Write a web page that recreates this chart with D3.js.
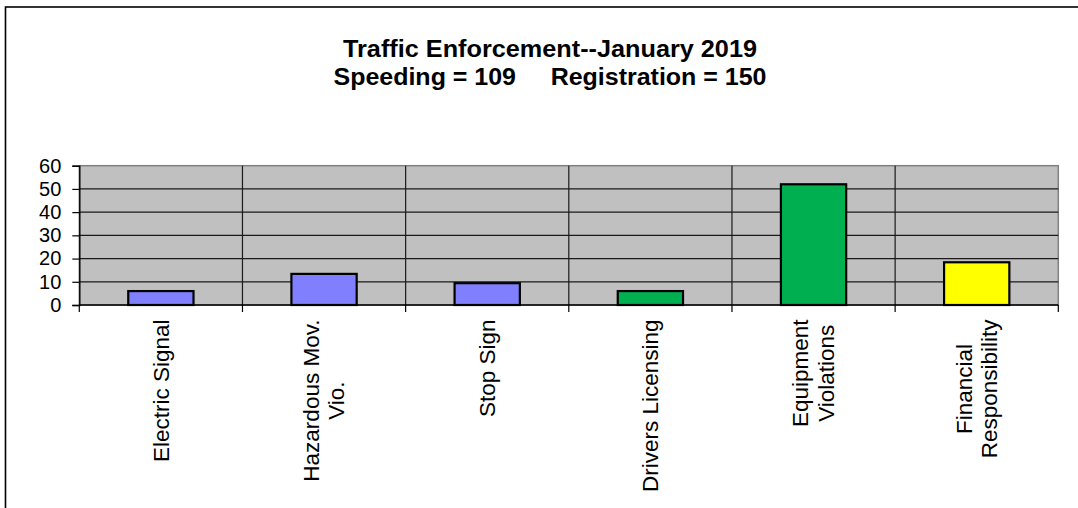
<!DOCTYPE html>
<html>
<head>
<meta charset="utf-8">
<script src="https://cdn.jsdelivr.net/npm/d3@7"></script>
<style>
  html, body { margin: 0; padding: 0; background: #fff; }
  svg { display: block; font-family: "Liberation Sans", Arial, sans-serif; }
</style>
</head>
<body>
<svg id="chart" width="1078" height="508"></svg>
<script>
// ---- data ----
const titleLines = ["Traffic Enforcement--January 2019", "Speeding = 109     Registration = 150"];
const categories = ["Electric Signal", "Hazardous Mov. Vio.", "Stop Sign", "Drivers Licensing", "Equipment Violations", "Financial Responsibility"];
const categoryLines = [["Electric Signal"], ["Hazardous Mov.", "Vio."], ["Stop Sign"], ["Drivers Licensing"], ["Equipment", "Violations"], ["Financial", "Responsibility"]];
const values = [6, 13.4, 9.4, 6, 52, 18.4];
const barColors = ["#8080FF", "#8080FF", "#8080FF", "#00B050", "#00B050", "#FFFF00"];
const yTicks = [0, 10, 20, 30, 40, 50, 60];

// ---- layout ----
const svg = d3.select("#chart");
const plot = { left: 79.3, right: 1058.3, top: 165.7, bottom: 305 };

// outer frame
svg.append("rect").attr("x", 5.5).attr("y", 7).attr("width", 1200).attr("height", 700)
  .attr("fill", "none").attr("stroke", "#000").attr("stroke-width", 1.6);

// title
const title = svg.append("g");
title.append("text").attr("x", 550).attr("y", 56.5).attr("text-anchor", "middle")
  .attr("font-size", 23).attr("font-weight", "bold")
  .attr("textLength", 414).attr("lengthAdjust", "spacingAndGlyphs")
  .text(titleLines[0]);
title.append("text").attr("x", 550).attr("y", 85).attr("text-anchor", "middle")
  .attr("font-size", 23).attr("font-weight", "bold")
  .attr("textLength", 433).attr("lengthAdjust", "spacingAndGlyphs")
  .style("white-space", "pre").attr("xml:space", "preserve")
  .text(titleLines[1]);

const x = d3.scaleBand().domain(categories).range([plot.left, plot.right]).padding(0);
const y = d3.scaleLinear().domain([0, 60]).range([plot.bottom, plot.top]);

// plot background
svg.append("rect").attr("x", plot.left).attr("y", plot.top)
  .attr("width", plot.right - plot.left).attr("height", plot.bottom - plot.top)
  .attr("fill", "#C0C0C0").attr("stroke", "#808080").attr("stroke-width", 1.5);

// horizontal gridlines
svg.append("g").selectAll("line").data(yTicks.filter(d => d > 0 && d < 60)).join("line")
  .attr("x1", plot.left).attr("x2", plot.right)
  .attr("y1", d => y(d)).attr("y2", d => y(d))
  .attr("stroke", "#1a1a1a").attr("stroke-width", 1.2);

// vertical gridlines at category boundaries
const bounds = categories.slice(1).map(c => x(c));
svg.append("g").selectAll("line").data(bounds).join("line")
  .attr("x1", d => d).attr("x2", d => d)
  .attr("y1", plot.top).attr("y2", plot.bottom)
  .attr("stroke", "#1a1a1a").attr("stroke-width", 1.2);

// bars
svg.append("g").selectAll("rect").data(values).join("rect")
  .attr("x", (d, i) => x(categories[i]) + x.bandwidth() * 0.3)
  .attr("width", x.bandwidth() * 0.4)
  .attr("y", d => y(d))
  .attr("height", d => y(0) - y(d))
  .attr("fill", (d, i) => barColors[i])
  .attr("stroke", "#000").attr("stroke-width", 2.2);

// y axis
const yAxis = svg.append("g").attr("transform", `translate(${plot.left},0)`)
  .call(d3.axisLeft(y).tickValues(yTicks).tickSize(7).tickPadding(11));
yAxis.select(".domain").attr("stroke", "#000").attr("stroke-width", 1.4);
yAxis.selectAll(".tick line").attr("stroke", "#000").attr("stroke-width", 1.2);
yAxis.selectAll(".tick text").attr("font-size", 20).attr("fill", "#000")
  .attr("font-family", "Liberation Sans, Arial, sans-serif");

// x axis line with ticks at category boundaries
const xEdges = categories.map(c => x(c)).concat([plot.right]);
svg.append("line").attr("x1", plot.left).attr("x2", plot.right)
  .attr("y1", plot.bottom).attr("y2", plot.bottom)
  .attr("stroke", "#000").attr("stroke-width", 1.4);
svg.append("g").selectAll("line").data(xEdges).join("line")
  .attr("x1", d => d).attr("x2", d => d)
  .attr("y1", plot.bottom).attr("y2", plot.bottom + 7)
  .attr("stroke", "#000").attr("stroke-width", 1.2);

// category labels (rotated)
const fs = 22.5, lineH = 25.5, capH = 15.3, topY = 319.5;
categoryLines.forEach((lines, i) => {
  const cx = x(categories[i]) + x.bandwidth() / 2;
  const g = svg.append("g").attr("transform", `translate(${cx},${topY}) rotate(-90)`);
  const texts = g.selectAll("text").data(lines).join("text")
    .attr("font-size", fs).attr("fill", "#000").attr("text-anchor", "middle")
    .text(d => d);
  let maxLen = 0;
  texts.each(function() { maxLen = Math.max(maxLen, this.getComputedTextLength()); });
  const blockH = capH + lineH * (lines.length - 1);
  texts.attr("x", -maxLen / 2)
    .attr("y", (d, j) => -blockH / 2 + capH + j * lineH);
});
</script>
</body>
</html>
